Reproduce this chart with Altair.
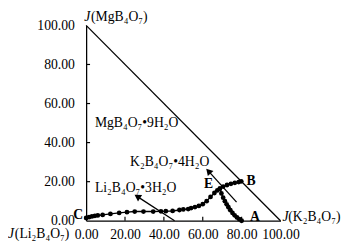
import math
import altair as alt
import pandas as pd

# ---- data ----
# solubility curve C -> E -> B
curve_x = [0.0, 1.5, 3.0, 4.5, 6.0, 8.5, 12.5, 17.0, 21.0, 25.0, 29.5, 34.5, 38.5,
           41.0, 44.5, 48.0, 50.0, 52.5, 54.0, 56.0, 58.0, 60.0, 62.0, 64.0, 66.0,
           67.5, 68.8, 70.5, 72.5, 74.5, 76.5, 78.5, 79.8]
curve_y = [1.4, 1.8, 2.2, 2.5, 2.7, 3.0, 3.5, 4.0, 4.4, 4.7, 4.7, 4.7, 4.8,
           4.9, 5.0, 5.5, 5.8, 6.0, 6.5, 7.0, 7.6, 8.5, 10.0, 12.2, 14.2,
           15.5, 16.4, 17.5, 18.3, 18.9, 19.4, 19.8, 20.2]
# branch E -> A
branch_x = [68.8, 69.6, 70.5, 71.4, 72.3, 73.2, 74.2, 75.3, 76.4, 77.6, 78.8, 80.0]
branch_y = [16.4, 14.0, 11.8, 10.0, 8.4, 6.9, 5.4, 4.0, 2.8, 1.7, 0.8, 0.0]
# hypotenuse J(MgB4O7)=100 -> J(K2B4O7)=100
hyp_x = [0, 100]
hyp_y = [100, 0]
# crystallisation arrows (tail, head)
arrow_names = ["K", "Li"]
arrow_tail_x = [77.4, 45.5]
arrow_tail_y = [9.5, 0.0]
arrow_head_x = [63.3, 26.8]
arrow_head_y = [25.0, 12.1]
# axis ticks
tick_values = [0, 20, 40, 60, 80, 100]
inner_ticks = [20, 40, 60, 80]
# phase field labels
phase_labels = ["MgB\u2084O\u2087\u20229H\u2082O", "K\u2082B\u2084O\u2087\u20224H\u2082O",
                "Li\u2082B\u2084O\u2087\u20223H\u2082O"]
phase_x = [4.5, 22.6, 4.5]
phase_y = [50.0, 30.0, 16.5]
# point labels
point_labels = ["E", "B", "A"]
point_x = [63.0, 84.8, 86.8]
point_y = [18.8, 20.5, 2.0]

FONT = "Liberation Serif"

sx = alt.Scale(domain=[0, 100], nice=False, zero=False)
sy = alt.Scale(domain=[0, 100], nice=False, zero=False)

def X(f="x"):
    return alt.X(f"{f}:Q", scale=sx,
                 axis=alt.Axis(values=tick_values, format=".2f", title=None,
                               labelFlush=False, labelPadding=7, ticks=False,
                               grid=False, domainColor="black", domainWidth=1.3))

def Y(f="y"):
    return alt.Y(f"{f}:Q", scale=sy,
                 axis=alt.Axis(values=tick_values, format=".2f", title=None,
                               labelPadding=12, ticks=False, grid=False,
                               domainColor="black", domainWidth=1.3))

curve_df = pd.DataFrame({"x": curve_x, "y": curve_y, "i": range(len(curve_x))})
branch_df = pd.DataFrame({"x": branch_x, "y": branch_y, "i": range(len(branch_x))})
hyp_df = pd.DataFrame({"x": hyp_x, "y": hyp_y})

arr_rows = []
head_rows = []
for n, tx, ty, hx, hy in zip(arrow_names, arrow_tail_x, arrow_tail_y, arrow_head_x, arrow_head_y):
    arr_rows.append({"a": n, "x": tx, "y": ty, "i": 0})
    arr_rows.append({"a": n, "x": hx, "y": hy, "i": 1})
    ang = math.degrees(math.atan2(hx - tx, hy - ty)) % 360
    head_rows.append({"a": n, "x": hx, "y": hy, "ang": ang})
arr_df = pd.DataFrame(arr_rows)
head_df = pd.DataFrame(head_rows)

hyp = alt.Chart(hyp_df).mark_line(color="black", strokeWidth=1.3).encode(x=X(), y=Y())

curve = alt.Chart(curve_df).mark_line(
    color="black", strokeWidth=1.4,
    point=alt.OverlayMarkDef(filled=True, size=24, color="black", opacity=1)
).encode(x=X(), y=Y(), order="i:Q")

branch = alt.Chart(branch_df).mark_line(
    color="black", strokeWidth=1.4,
    point=alt.OverlayMarkDef(filled=True, size=24, color="black", opacity=1)
).encode(x=X(), y=Y(), order="i:Q")

shafts = alt.Chart(arr_df).mark_line(color="black", strokeWidth=1.3).encode(
    x=X(), y=Y(), detail="a:N", order="i:Q")
heads = alt.Chart(head_df).mark_point(shape="triangle", filled=True, size=60,
                                      color="black", opacity=1).encode(
    x=X(), y=Y(), angle=alt.Angle("ang:Q", scale=None))

xt_df = pd.DataFrame({"x": inner_ticks})
yt_df = pd.DataFrame({"y": inner_ticks})
xticks = alt.Chart(xt_df).mark_rule(color="black", strokeWidth=1.2).encode(
    x=X(), y=alt.value(200), y2=alt.value(196))
yticks = alt.Chart(yt_df).mark_rule(color="black", strokeWidth=1.2).encode(
    y=Y(), x=alt.value(0), x2=alt.value(4))

phase_df = pd.DataFrame({"x": phase_x, "y": phase_y, "t": phase_labels})
phase_text = alt.Chart(phase_df).mark_text(
    font=FONT, fontSize=14, align="left", baseline="middle", color="black"
).encode(x=X(), y=Y(), text="t:N")

pt_df = pd.DataFrame({"x": point_x, "y": point_y, "t": point_labels})
pt_text = alt.Chart(pt_df).mark_text(
    font=FONT, fontSize=14, fontWeight="bold", align="center", baseline="middle",
    color="black"
).encode(x=X(), y=Y(), text="t:N")

c_df = pd.DataFrame({"x": [0.0], "y": [curve_y[0]], "t": ["C"]})
c_text = alt.Chart(c_df).mark_text(
    font=FONT, fontSize=14, fontWeight="bold", align="right", baseline="middle",
    color="black", dx=-3, dy=-3
).encode(x=X(), y=Y(), text="t:N")

# corner axis names
def jlabel(xv, yv, rest, dxj, dxr, dy):
    d = pd.DataFrame({"x": [xv], "y": [yv], "j": ["J"], "r": [rest]})
    j = alt.Chart(d).mark_text(font=FONT, fontSize=14, fontStyle="italic",
                               align="left", baseline="middle", color="black",
                               dx=dxj, dy=dy).encode(x=X(), y=Y(), text="j:N")
    r = alt.Chart(d).mark_text(font=FONT, fontSize=14, align="left",
                               baseline="middle", color="black",
                               dx=dxr, dy=dy).encode(x=X(), y=Y(), text="r:N")
    return j + r

j_mg = jlabel(0, 100, "(MgB\u2084O\u2087)", -2, 5, -8)
j_k = jlabel(100, 0, "(K\u2082B\u2084O\u2087)", 2, 8, -4)
j_li = jlabel(0, 0, "(Li\u2082B\u2084O\u2087)", -80, -73, 14)

chart = alt.layer(
    hyp, shafts, heads, curve, branch, xticks, yticks,
    phase_text, pt_text, c_text, j_mg, j_k, j_li
).properties(
    width=199, height=200,
    autosize=alt.AutoSizeParams(type="none"),
    padding={"left": 80, "top": 15, "right": 64, "bottom": 21},
    background="white",
).configure_axis(
    labelFont=FONT, labelFontSize=14, labelColor="black"
).configure_view(stroke=None)

chart.save("out.html", embed_options={"renderer": "svg", "actions": False})
